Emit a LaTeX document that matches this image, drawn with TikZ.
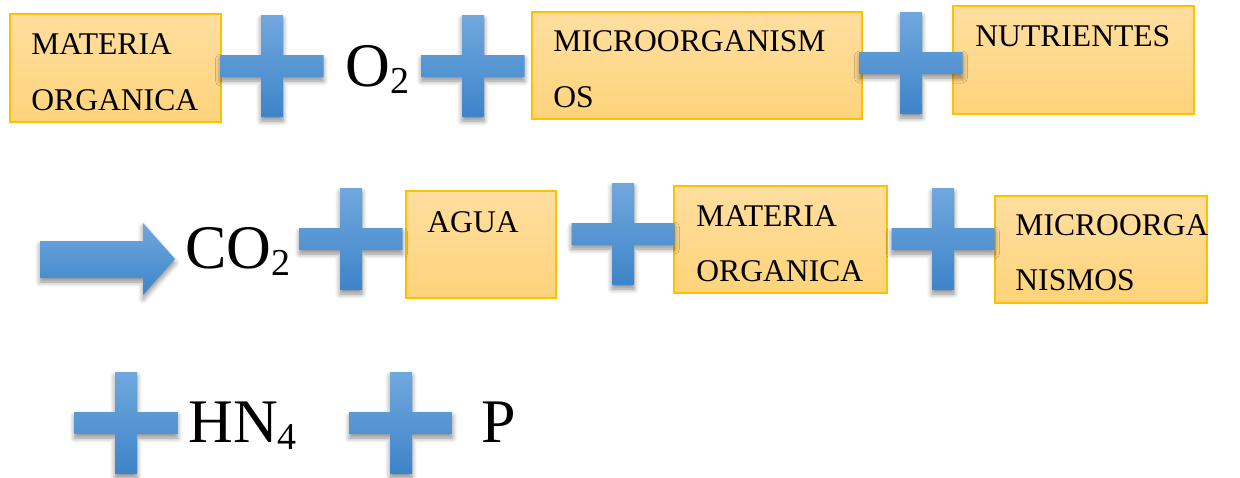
\documentclass[tikz,border=0pt]{standalone}
\usepackage{fontspec}
\setmainfont{Liberation Serif}
\usetikzlibrary{shadows,shadows.blur,fit}
\definecolor{boxline}{RGB}{255,192,0}
\definecolor{boxtop}{RGB}{255,222,160}
\definecolor{boxbot}{RGB}{254,211,122}
\definecolor{plustop}{RGB}{112,168,222}
\definecolor{plusbot}{RGB}{62,132,200}
\tikzset{
  box/.style={draw=boxline, line width=0.8pt, top color=boxtop, bottom color=boxbot, inner sep=0pt, rectangle},
  boxtext/.style={anchor=base west, inner sep=0pt, font=\fontsize{15.8}{18}\selectfont},
  bigtext/.style={anchor=base west, inner sep=0pt, font=\fontsize{31}{36}\selectfont},
  plusfill/.style={top color=plustop, bottom color=plusbot, draw=none,
    blur shadow={shadow xshift=0pt, shadow yshift=-2pt, shadow blur radius=2.5pt, shadow blur steps=6, shadow opacity=45}},
}
\newcommand\subtxt[1]{\raisebox{-0.12em}{\fontsize{19}{20}\selectfont #1}}
\newcommand\plusmark[3]{%
  \coordinate (#1) at (#2,#3);
  \path[plusfill] (#2-51.5,#3-11) -- (#2-11,#3-11) -- (#2-11,#3-51) -- (#2+11,#3-51)
    -- (#2+11,#3-11) -- (#2+51.5,#3-11) -- (#2+51.5,#3+11) -- (#2+11,#3+11)
    -- (#2+11,#3+51) -- (#2-11,#3+51) -- (#2-11,#3+11) -- (#2-51.5,#3+11) -- cycle;
}
\begin{document}
\begin{tikzpicture}[x=0.5pt,y=-0.5pt]
\useasboundingbox (0,0) rectangle (1240,477);
% boxes
\node[box, fit={(10,14) (221,122)}] (b1) {};
\node[box, fit={(532,12) (862,119)}] (b2) {};
\node[box, fit={(953,6) (1194,114)}] (b3) {};
\node[box, fit={(406,191) (556,298)}] (b4) {};
\node[box, fit={(674,186) (887,293)}] (b5) {};
\node[box, fit={(995,196) (1207,303)}] (b6) {};
% plus signs
\plusmark{p1}{272}{66}
\plusmark{p2}{473}{66}
\plusmark{p3}{911}{63}
\plusmark{p4}{351}{239}
\plusmark{p5}{623}{234}
\plusmark{p6}{943}{239}
\plusmark{p7}{126}{423}
\plusmark{p8}{401}{423}
% arrow
\coordinate (arr) at (107,259);
\path[plusfill] (40,241) -- (143,241) -- (143,223) -- (175,259) -- (143,295) -- (143,278) -- (40,278) -- cycle;
% texts
\node[boxtext] (t1a) at (31,54) {MATERIA};
\node[boxtext] (t1b) at (31,110) {ORGANICA};
\node[bigtext] (o2) at (345,86) {O\subtxt{2}};
\node[boxtext] (t2a) at (553,51) {MICROORGANISM};
\node[boxtext] (t2b) at (553,107) {OS};
\node[boxtext] (t3) at (975,46) {NUTRIENTES};
\node[bigtext] (co2) at (185,268) {CO\subtxt{2}};
\node[boxtext] (t4) at (427,232) {AGUA};
\node[boxtext] (t5a) at (696,226) {MATERIA};
\node[boxtext] (t5b) at (696,281) {ORGANICA};
\node[boxtext] (t6a) at (1015,235) {MICROORGA};
\node[boxtext] (t6b) at (1015,290) {NISMOS};
\node[bigtext] (hn4) at (188,442) {HN\subtxt{4}};
\node[bigtext] (pp) at (481,442) {P};
\end{tikzpicture}
\end{document}
